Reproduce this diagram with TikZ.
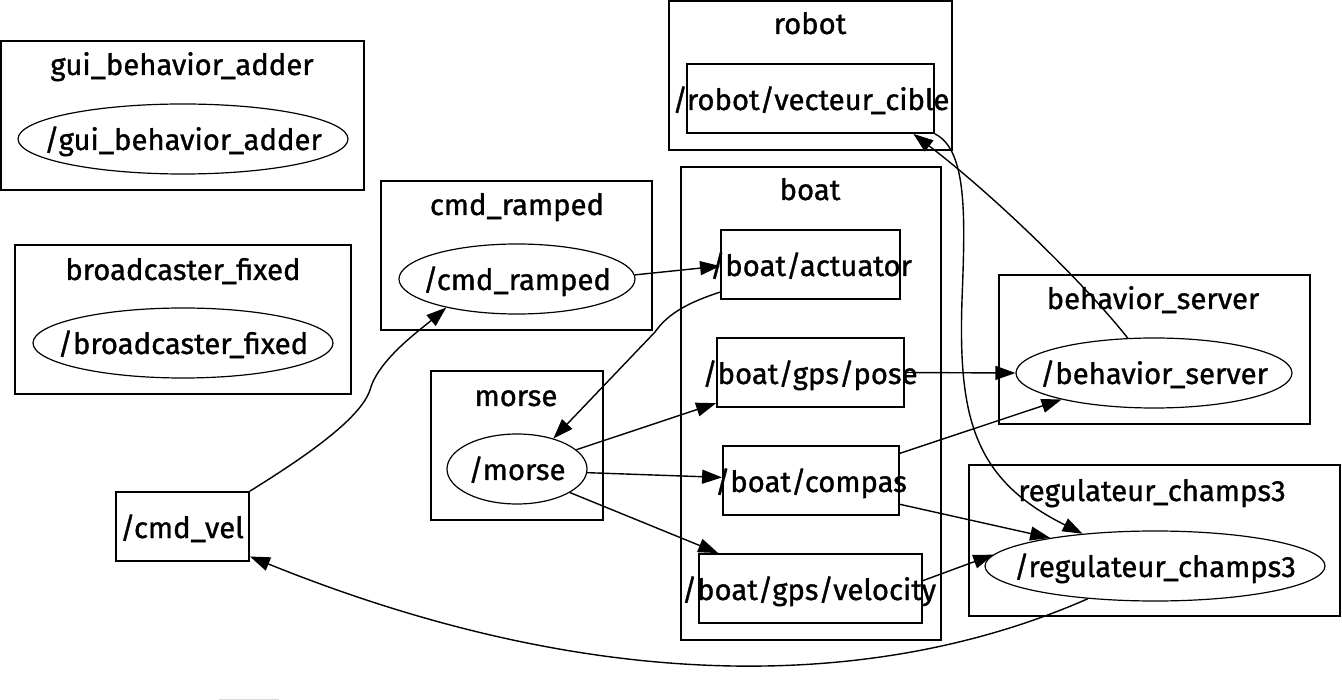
\documentclass[tikz,border=0pt]{standalone}
\usepackage{fontspec}
\setmainfont{Fira Sans}
\newfontfamily\lblfont[FakeBold=1.1]{Fira Sans}
\usetikzlibrary{arrows.meta,shapes.geometric}
\tikzset{
  cluster/.style={draw, line width=1.8pt, rectangle, inner sep=0pt},
  ctitle/.style={inner sep=0pt, font=\lbl, anchor=base},
  ell/.style={draw, ellipse, line width=1.2pt, inner sep=0pt, minimum height=70pt},
  topic/.style={draw, rectangle, line width=1.8pt, inner sep=0pt, minimum height=69pt},
  txt/.style={inner sep=0pt, font=\lbl, anchor=base},
  edge/.style={line width=1.4pt, -{Triangle[length=20pt,width=14pt]}},
}
\newcommand{\lbl}{\lblfont\fontsize{29.3}{34}\selectfont}
\begin{document}
\begin{tikzpicture}[x=1pt,y=-1pt]
\useasboundingbox (0,0) rectangle (1342,700);
% clusters
\node[cluster, minimum width=363pt, minimum height=149pt] (cgui) at (182.5,115.5) {};
\node[ctitle] (tgui) at (182,75) {gui\_behavior\_adder};
\node[cluster, minimum width=336pt, minimum height=149pt] (cbc) at (183,319.5) {};
\node[ctitle] (tbc) at (183,280) {broadcaster\_fixed};
\node[cluster, minimum width=271pt, minimum height=149pt] (ccmdr) at (516.5,255.5) {};
\node[ctitle] (tcmdr) at (517,215) {cmd\_ramped};
\node[cluster, minimum width=283pt, minimum height=149pt] (crobot) at (810.5,75.5) {};
\node[ctitle] (trobot) at (810,34) {robot};
\node[cluster, minimum width=260pt, minimum height=473pt] (cboat) at (811,403.5) {};
\node[ctitle] (tboat) at (810,200) {boat};
\node[cluster, minimum width=311pt, minimum height=149pt] (cbeh) at (1154.5,349.5) {};
\node[ctitle] (tbeh) at (1153,309) {behavior\_server};
\node[cluster, minimum width=371pt, minimum height=151pt] (creg) at (1154.5,540.5) {};
\node[ctitle] (treg) at (1152,501) {regulateur\_champs3};
\node[cluster, minimum width=172pt, minimum height=149pt] (cmorse) at (517,445.5) {};
\node[ctitle] (tmorse) at (516,406) {morse};
% nodes
\node[ell, minimum width=330pt] (gui) at (183,139) {};
\node[txt] (lgui) at (183,150) {/gui\_behavior\_adder};
\node[ell, minimum width=300pt] (bc) at (183,343) {};
\node[txt] (lbc) at (183,354) {/broadcaster\_fixed};
\node[ell, minimum width=236pt] (cmdr) at (517,279) {};
\node[txt] (lcmdr) at (517,290) {/cmd\_ramped};
\node[ell, minimum width=140pt] (morse) at (517,469) {};
\node[txt] (lmorse) at (517,480) {/morse};
\node[ell, minimum width=276pt] (behav) at (1154,373) {};
\node[txt] (lbehav) at (1154,384) {/behavior\_server};
\node[ell, minimum width=340pt] (reg) at (1155,566) {};
\node[txt] (lreg) at (1155,577) {/regulateur\_champs3};
\node[topic, minimum width=247pt] (rvc) at (810.5,98.5) {};
\node[txt] (lrvc) at (811,110) {/robot/vecteur\_cible};
\node[topic, minimum width=179pt] (act) at (810.5,264.5) {};
\node[txt] (lact) at (811,276) {/boat/actuator};
\node[topic, minimum width=187pt] (pose) at (810.5,372.5) {};
\node[txt] (lpose) at (810,384) {/boat/gps/pose};
\node[topic, minimum width=176pt] (compas) at (811,480.5) {};
\node[txt] (lcompas) at (811,492) {/boat/compas};
\node[topic, minimum width=223pt] (vel) at (810.5,588.5) {};
\node[txt] (lvel) at (809,600) {/boat/gps/velocity};
\node[topic, minimum width=133pt] (cmdvel) at (182.5,526.5) {};
\node[txt] (lcmdvel) at (182,538) {/cmd\_vel};
% edges
\draw[edge] (cmdr.2.9) -- (act.181.6);
\draw[edge] (act.197) .. controls (680,305) and (665,318) .. (655,332) -- (morse.40.7);
\draw[edge] (morse.18.4) -- (pose.198.6);
\draw[edge] (morse.357.5) -- (compas.178.4);
\draw[edge] (morse.336.5) -- (vel.159.6);
\draw[edge] (pose.east) -- (behav.west);
\draw[edge] (compas.17.4) -- (behav.196.7);
\draw[edge] (compas.345.7) -- (reg.165.2);
\draw[edge] (vel.4.4) -- (reg.176.9);
\draw[edge] (behav.127.4) .. controls (1090,290) and (1000,200) .. (rvc.341.5);
\draw[edge] (rvc.south east) .. controls (968,150) and (965,220) .. (962,300) .. controls (958,420) and (975,480) .. (reg.156.3);
\draw[edge] (reg.206.9) .. controls (880,690) and (600,698) .. (cmdvel.336.4);
\draw[edge] (cmdvel.north east) .. controls (300,460) and (360,420) .. (370,390) .. controls (378,360) and (420,330) .. (cmdr.202.5);
\draw[gray!30, line width=0.8pt] (219,699.5) -- (279,699.5);
\end{tikzpicture}
\end{document}
